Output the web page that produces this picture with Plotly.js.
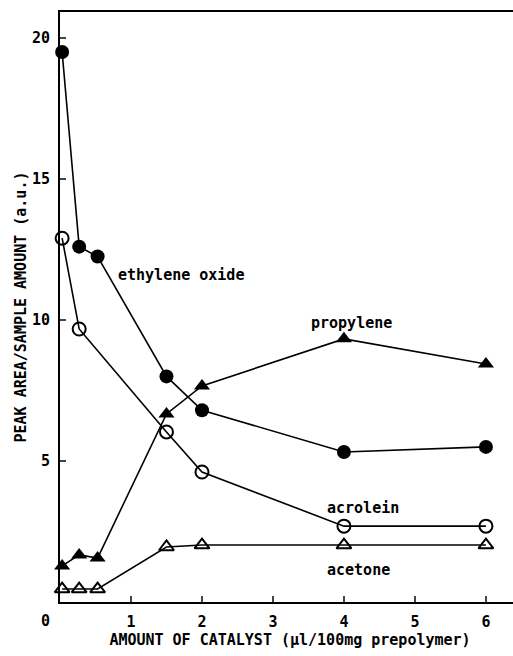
<!DOCTYPE html>
<html>
<head>
<meta charset="utf-8">
<script src="https://cdn.plot.ly/plotly-3.0.1.min.js"></script>
<style>html,body{margin:0;padding:0;background:#fff;overflow:hidden;}#chart{width:520px;height:656px;}</style>
</head>
<body>
<div id="chart"></div>
<script>
// Data
const xFull = [0.03, 0.27, 0.53, 1.5, 2, 4, 6];
const xAcrolein = [0.03, 0.27, 1.5, 2, 4, 6];
const ethyleneOxide = [19.5, 12.6, 12.25, 8.0, 6.8, 5.32, 5.5];
const acrolein = [12.9, 9.68, 6.03, 4.61, 2.69, 2.69];
const propylene = [1.28, 1.67, 1.56, 6.67, 7.66, 9.33, 8.44];
const acetone = [0.46, 0.46, 0.46, 1.95, 2.02, 2.02, 2.02];
const xTicks = [1, 2, 3, 4, 5, 6];
const yTicks = [5, 10, 15, 20];
const seriesLabels = [
  {text: 'ethylene oxide', x: 1.7, y: 11.6},
  {text: 'propylene', x: 4.1, y: 9.9},
  {text: 'acrolein', x: 4.27, y: 3.35},
  {text: 'acetone', x: 4.2, y: 1.15}
];

const FONT = 'DejaVu Sans Mono, Liberation Mono, monospace';
const lineStyle = {color: '#000', width: 1.6};

const traces = [
  {x: xFull, y: ethyleneOxide, mode: 'lines+markers', line: lineStyle,
   marker: {symbol: 'circle', size: 14, color: '#000'}},
  {x: xAcrolein, y: acrolein, mode: 'lines+markers', line: lineStyle,
   marker: {symbol: 'circle-open', size: 13, color: '#000', line: {width: 2, color: '#000'}}},
  {x: xFull, y: propylene, mode: 'lines+markers', line: lineStyle,
   marker: {symbol: 'triangle-up', size: 14, color: '#000'}},
  {x: xFull, y: acetone, mode: 'lines+markers', line: lineStyle,
   marker: {symbol: 'triangle-up-open', size: 13, color: '#000', line: {width: 2, color: '#000'}}}
].map(t => Object.assign({showlegend: false, hoverinfo: 'skip', cliponaxis: false}, t));

const labelFont = {family: FONT, size: 15, color: '#000', weight: 'bold'};
const annotations = seriesLabels.map(l => ({
  text: l.text, x: l.x, y: l.y, xref: 'x', yref: 'y', showarrow: false, font: labelFont
}));
annotations.push({text: '0', x: 0, y: 0, xref: 'x', yref: 'y', showarrow: false,
  xshift: -15, yshift: -19, font: labelFont});

const layout = {
  width: 520, height: 656,
  margin: {l: 60, r: 0, t: 12, b: 54},
  paper_bgcolor: '#fff', plot_bgcolor: '#fff',
  font: labelFont,
  xaxis: {
    range: [0, 6.48], tickvals: xTicks, ticks: 'inside', ticklen: 6, tickwidth: 1.5,
    showline: true, linewidth: 2, linecolor: '#000', mirror: true, showgrid: false, zeroline: false,
    tickfont: labelFont, ticklabelstandoff: 5,
    title: {text: 'AMOUNT OF CATALYST (µl/100mg prepolymer)', font: labelFont, standoff: 1}
  },
  yaxis: {
    range: [0, 20.92], tickvals: yTicks, ticks: 'inside', ticklen: 6, tickwidth: 1.5,
    showline: true, linewidth: 2, linecolor: '#000', showgrid: false, zeroline: false,
    tickfont: labelFont, ticklabelstandoff: 5,
    title: {text: 'PEAK AREA/SAMPLE AMOUNT (a.u.)', font: labelFont, standoff: 2}
  },
  annotations: annotations
};

Plotly.newPlot('chart', traces, layout, {staticPlot: true, displayModeBar: false});
</script>
</body>
</html>
